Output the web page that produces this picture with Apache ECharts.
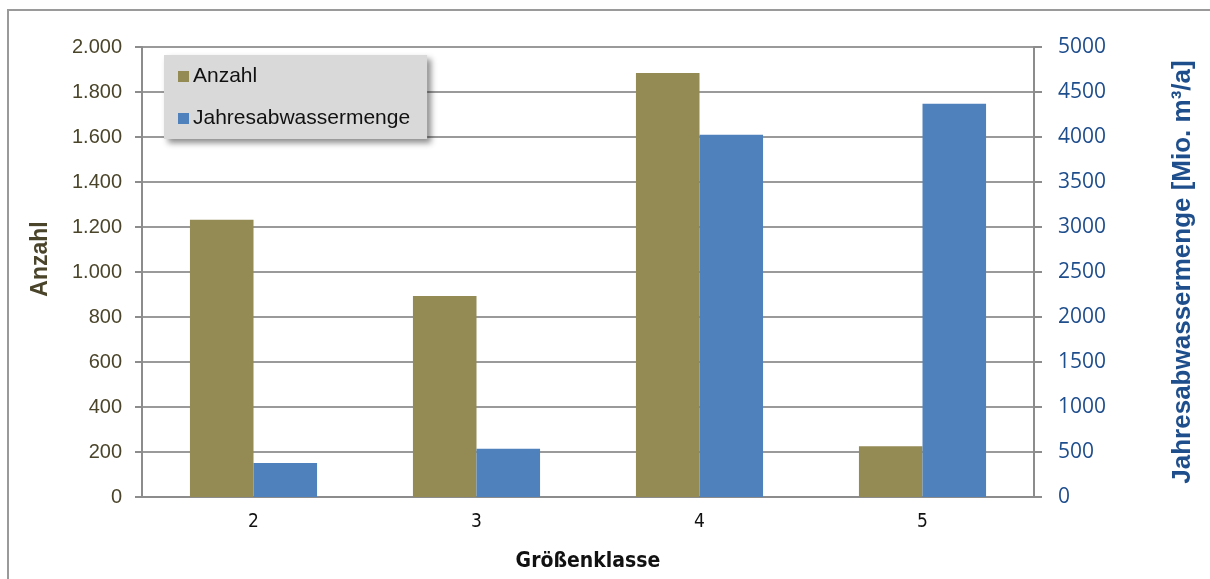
<!DOCTYPE html>
<html>
<head>
<meta charset="utf-8">
<script src="https://cdn.jsdelivr.net/npm/echarts@6/dist/echarts.min.js"></script>
<style>
  html, body { margin: 0; padding: 0; background: #fff; }
  #chart { width: 1210px; height: 579px; }
</style>
</head>
<body>
<div id="chart"></div>
<script>
// Größenklassen und Werte
const categories = ['2', '3', '4', '5']
const anzahl = [1232, 893, 1885, 226]
const abwasser = [378, 535, 4025, 4370]

const chart = echarts.init(document.getElementById('chart'))

const fmtDot = (v) => String(v).replace(/\B(?=(\d{3})+(?!\d))/g, '.')
const narrow = "'Liberation Sans Narrow', 'DejaVu Sans Condensed', Roboto, sans-serif"

const option = {
    animation: false,
    backgroundColor: '#fff',
    graphic: [
        {
            type: 'rect',
            shape: { x: 8, y: 10, width: 1230, height: 600 },
            style: { fill: 'none', stroke: '#9a9a9a', lineWidth: 2 },
            silent: true
        }
    ],
    legend: {
        orient: 'vertical',
        left: 164,
        top: 55,
        padding: [11, 17, 10, 14],
        itemGap: 21,
        itemWidth: 11,
        itemHeight: 11,
        icon: 'rect',
        backgroundColor: '#d9d9d9',
        shadowBlur: 6,
        shadowColor: 'rgba(0,0,0,0.45)',
        shadowOffsetX: 4,
        shadowOffsetY: 4,
        textStyle: { fontFamily: 'Liberation Sans', fontSize: 21, color: '#111', padding: [0, 0, 0, -1] },
        data: ['Anzahl', 'Jahresabwassermenge']
    },
    grid: { left: 142, right: 176, top: 47, bottom: 82 },
    xAxis: {
        type: 'category',
        data: categories,
        name: 'Größenklasse',
        nameLocation: 'middle',
        nameGap: 54,
        nameTextStyle: { fontFamily: narrow, fontWeight: 'bold', fontSize: 21, color: '#111' },
        axisLine: { lineStyle: { color: '#8c8c8c', width: 2 } },
        axisTick: { length: 7, lineStyle: { color: '#8c8c8c', width: 2 } },
        axisLabel: { margin: 16, fontFamily: narrow, fontSize: 19, color: '#111' }
    },
    yAxis: [
        {
            type: 'value',
            min: 0, max: 2000, interval: 200,
            name: 'Anzahl',
            nameLocation: 'middle',
            nameGap: 90,
            nameTextStyle: { fontFamily: 'Liberation Sans', fontWeight: 'bold', fontSize: 23, color: '#4a452a', padding: [0, 0, 0, 26] },
            axisLine: { show: true, lineStyle: { color: '#8c8c8c', width: 2 } },
            axisTick: { show: true, length: 7, lineStyle: { color: '#8c8c8c', width: 2 } },
            axisLabel: { margin: 20, fontFamily: 'Liberation Sans', fontSize: 20, color: '#4a452a', formatter: fmtDot },
            splitLine: { show: true, lineStyle: { color: '#9a9a9a', width: 2 } }
        },
        {
            type: 'value',
            min: 0, max: 5000, interval: 500,
            position: 'right',
            name: 'Jahresabwassermenge [Mio. m³/a]',
            nameLocation: 'middle',
            nameGap: 136,
            nameRotate: 90,
            nameTextStyle: { fontFamily: 'Liberation Sans', fontWeight: 'bold', fontSize: 26, color: '#1f4e8c' },
            axisLine: { show: true, lineStyle: { color: '#8c8c8c', width: 2 } },
            axisTick: { show: true, length: 8, lineStyle: { color: '#8c8c8c', width: 2 } },
            axisLabel: { margin: 24, fontFamily: 'Open Sans', fontSize: 21, color: '#1f4e8c', formatter: (v) => String(v) },
            splitLine: { show: false }
        }
    ],
    series: [
        {
            name: 'Anzahl',
            type: 'bar',
            yAxisIndex: 0,
            barGap: '0%',
            barCategoryGap: '43%',
            itemStyle: { color: '#948a54' },
            data: anzahl
        },
        {
            name: 'Jahresabwassermenge',
            type: 'bar',
            yAxisIndex: 1,
            barGap: '0%',
            barCategoryGap: '43%',
            itemStyle: { color: '#4f81bd' },
            data: abwasser
        }
    ]
}

chart.setOption(option)
</script>
</body>
</html>
